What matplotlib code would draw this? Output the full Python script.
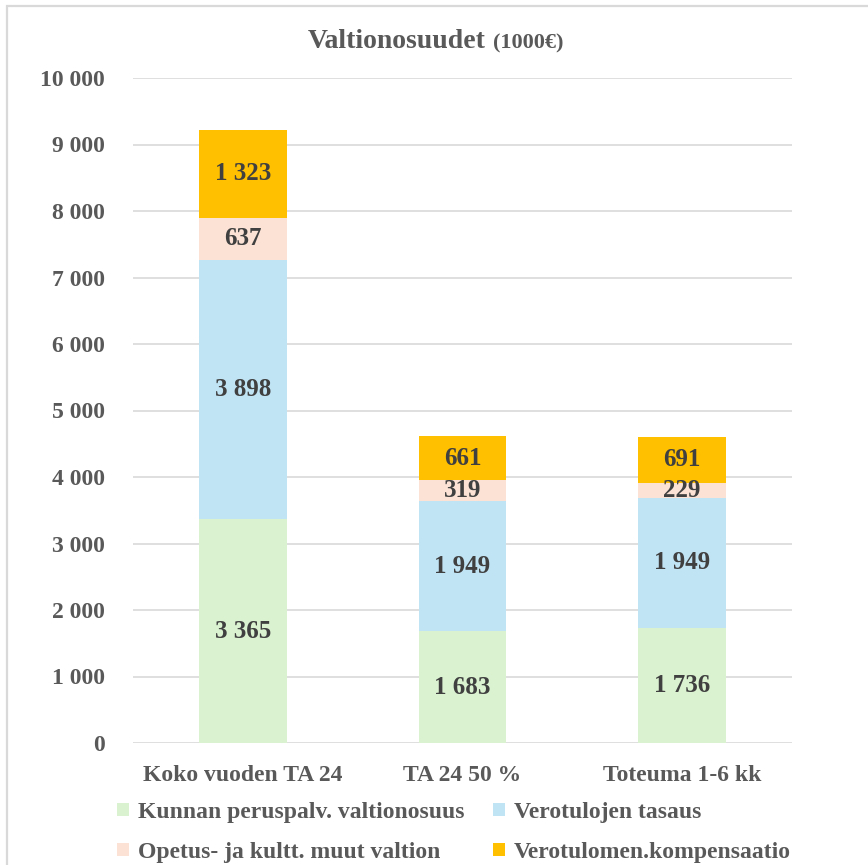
import matplotlib.pyplot as plt
from matplotlib.patches import Rectangle
from matplotlib.ticker import FuncFormatter

categories = ['Koko vuoden TA 24', 'TA 24 50 %', 'Toteuma 1-6 kk']
series_names = ['Kunnan peruspalv. valtionosuus', 'Verotulojen tasaus',
                'Opetus- ja kultt. muut valtion', 'Verotulomen.kompensaatio']
peruspalv = [3365, 1683, 1736]
tasaus = [3898, 1949, 1949]
opetus = [637, 319, 229]
kompensaatio = [1323, 661, 691]
colors = ['#daf2d0', '#c1e4f5', '#fbe2d5', '#ffc000']

plt.rcParams['font.family'] = ['Liberation Serif', 'DejaVu Serif']
plt.rcParams['font.weight'] = 'bold'
text_col = '#595959'
label_col = '#404040'

fig = plt.figure(figsize=(8.68, 8.65), dpi=100)
ax = fig.add_axes([133 / 868, 1 - 743 / 865, (792 - 133) / 868, (743 - 78) / 865])

# chart border (cropped at right and bottom)
fig.patches.append(Rectangle((7 / 868, -0.1), 1.2, 1 - 6 / 865 + 0.1,
                             transform=fig.transFigure, fill=False,
                             edgecolor='#d9d9d9', lw=1.6))

x = range(len(categories))
bottom = [0, 0, 0]
for name, vals, col in zip(series_names, [peruspalv, tasaus, opetus, kompensaatio], colors):
    bars = ax.bar(x, vals, 0.4, bottom=bottom, color=col, label=name, zorder=3)
    for b, v, b0 in zip(bars, vals, bottom):
        ax.text(b.get_x() + b.get_width() / 2, b0 + v / 2, f'{v:,}'.replace(',', ' '),
                ha='center', va='center', fontsize=18, fontweight='bold',
                color=label_col, zorder=4)
    bottom = [b0 + v for b0, v in zip(bottom, vals)]

ax.set_xlim(-0.5, 2.5)
ax.set_ylim(0, 10000)
ax.set_yticks(range(0, 10001, 1000))
ax.yaxis.set_major_formatter(FuncFormatter(lambda v, p: f'{int(v):,}'.replace(',', ' ')))
ax.set_xticks(list(x))
ax.set_xticklabels(categories)
ax.tick_params(axis='both', length=0, labelsize=17, colors=text_col)
ax.tick_params(axis='y', pad=20)
ax.tick_params(axis='x', pad=16)
ax.grid(axis='y', color='#d9d9d9', lw=1.2, zorder=0)
for s in ax.spines.values():
    s.set_visible(False)

fig.text(308 / 868, 1 - 42 / 865, 'Valtionosuudet', ha='left', va='center',
         fontsize=20, fontweight='bold', color=text_col)
fig.text(493 / 868, 1 - 43 / 865, '(1000€)', ha='left', va='center',
         fontsize=16, fontweight='bold', color=text_col)

# legend filled row by row like the original
handles, labels = ax.get_legend_handles_labels()
order = [0, 2, 1, 3]
fig.legend([handles[i] for i in order], [labels[i] for i in order],
           loc='upper left', bbox_to_anchor=(105 / 868, 1 - 790 / 865), ncol=2,
           frameon=False, fontsize=17, handlelength=0.5, handleheight=0.5,
           handletextpad=0.4, columnspacing=1.2, labelspacing=0.8,
           labelcolor=text_col, borderpad=0)

fig.savefig('out.png', dpi=100)
